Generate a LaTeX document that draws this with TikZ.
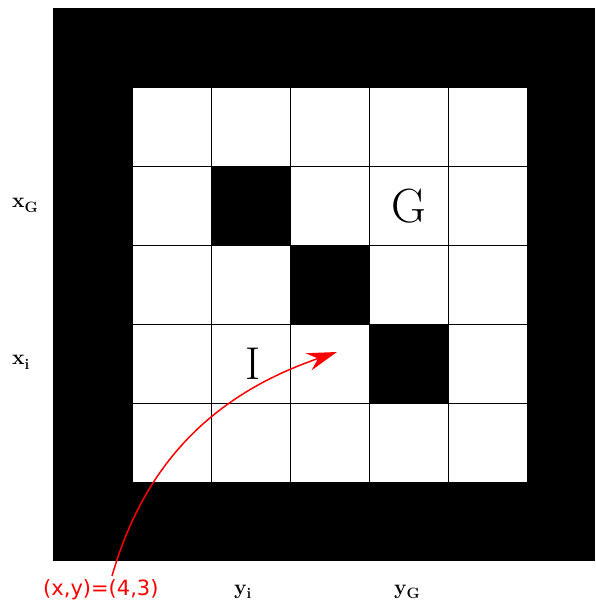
\documentclass[tikz,border=0pt]{standalone}
\usepackage{fontspec}
\newfontfamily\redfont{DejaVu Sans}
\usetikzlibrary{arrows.meta}
\tikzset{
  gridline/.style={black, line width=0.8pt},
  biglabel/.style={inner sep=0pt, font=\fontsize{48}{52}\selectfont},
  axislabel/.style={inner sep=0pt, anchor=base west, font=\bfseries\fontsize{21}{24}\selectfont},
  redlabel/.style={inner sep=0pt, anchor=base west, text=red, font=\redfont\fontsize{21}{24}\selectfont},
  redarrow/.style={red, line width=1.5pt, -{Stealth[length=30pt,width=18pt,inset=10pt]}}
}
\newcommand{\subtxt}[1]{\raisebox{-0.2em}{\bfseries\fontsize{15}{17}\selectfont #1}}
\begin{document}
\begin{tikzpicture}[x=1pt,y=1pt]
  \useasboundingbox (0,0) rectangle (595,603);
  \fill[white] (0,0) rectangle (595,603);
  % black frame
  \fill[black] (53,42) rectangle (595,595);
  % inner white area
  \fill[white] (133,121) rectangle (527,515);
  % black cells
  \fill[black] (211.8,357.4) rectangle (290.6,436.2);
  \fill[black] (290.6,278.6) rectangle (369.4,357.4);
  \fill[black] (369.4,199.8) rectangle (448.2,278.6);
  % grid lines
  \foreach \i in {1,2,3,4} {
    \draw[gridline] ({133+78.8*\i},121) -- ({133+78.8*\i},515);
    \draw[gridline] (133,{121+78.8*\i}) -- (527,{121+78.8*\i});
  }
  % cell letters
  \node[biglabel] (G) at (409,397) {G};
  \node[biglabel, font=\fontsize{46}{50}\selectfont] (I) at (253,239) {I};
  % axis labels
  \node[axislabel] (xG) at (12,395) {x\subtxt{G}};
  \node[axislabel] (xi) at (12,238) {x\subtxt{i}};
  \node[axislabel] (yi) at (234,9) {y\subtxt{i}};
  \node[axislabel] (yG) at (394,9) {y\subtxt{G}};
  % red annotation
  \node[redlabel] (pos) at (43,8) {(x,y)=(4,3)};
  \coordinate (start) at (112,27);
  \coordinate (tip) at (337,251);
  \draw[redarrow] (start) to[out=74,in=199] (tip);
\end{tikzpicture}
\end{document}
